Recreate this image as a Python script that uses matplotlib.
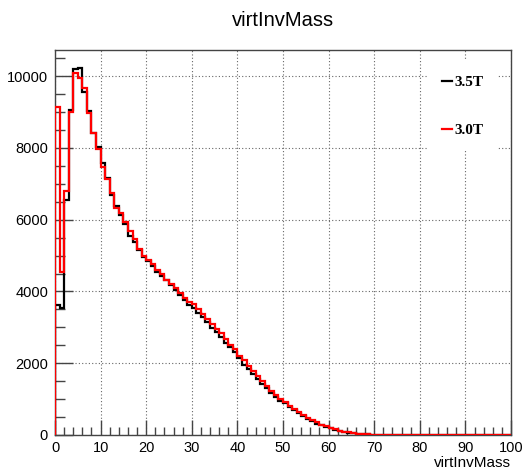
import numpy as np
import matplotlib
matplotlib.use("Agg")
import matplotlib.pyplot as plt
from matplotlib.lines import Line2D
from matplotlib.ticker import MultipleLocator

# virtual invariant mass, 100 bins of width 1 from 0 to 100
bin_edges = np.arange(0, 101, 1)

counts_35T = [
    3620, 3530, 6550, 9050, 10190, 10220, 9570, 9020, 8430, 8020,
    7570, 7150, 6700, 6380, 6130, 5880, 5560, 5390, 5160, 4950,
    4850, 4700, 4540, 4430, 4310, 4170, 4030, 3890, 3770, 3620,
    3550, 3400, 3300, 3140, 2990, 2870, 2730, 2570, 2440, 2310,
    2160, 1960, 1830, 1700, 1560, 1430, 1300, 1170, 1060, 950,
    880, 770, 690, 600, 520, 450, 380, 320, 270, 230,
    190, 150, 115, 90, 65, 50, 35, 25, 15, 10,
    6, 4, 2, 1,
] + [0] * 26

counts_30T = [
    9150, 4550, 6800, 9000, 10100, 9940, 9660, 8980, 8430, 7985,
    7480, 7130, 6750, 6320, 6180, 5940, 5680, 5450, 5180, 5000,
    4890, 4770, 4610, 4490, 4320, 4220, 4100, 3950, 3810, 3700,
    3640, 3510, 3380, 3240, 3100, 2950, 2830, 2670, 2520, 2400,
    2200, 2080, 1920, 1780, 1650, 1500, 1360, 1220, 1120, 1000,
    920, 820, 720, 640, 560, 480, 410, 350, 290, 240,
    200, 160, 125, 95, 70, 50, 38, 27, 18, 12,
    8, 5, 3, 2,
] + [0] * 26

labels = ["3.5T", "3.0T"]
colors = ["black", "#ff0000"]

FRAME = "#444444"

fig = plt.figure(figsize=(5.23, 4.71), dpi=100)
ax = fig.add_axes([55 / 523, 36 / 471, 456 / 523, 385 / 471])

for counts, col in zip([counts_35T, counts_30T], colors):
    ax.stairs(counts, bin_edges, baseline=0, color=col, lw=1.6, zorder=3)

ax.set_xlim(0, 100)
ax.set_ylim(0, 1.05 * max(counts_35T))

ax.xaxis.set_major_locator(MultipleLocator(10))
ax.xaxis.set_minor_locator(MultipleLocator(2))
ax.yaxis.set_major_locator(MultipleLocator(2000))
ax.yaxis.set_minor_locator(MultipleLocator(500))

ax.grid(which="major", color="#666666", lw=0.8, ls=(0, (1, 2)), zorder=1)

ax.tick_params(axis="x", which="major", direction="in", length=11, width=1,
               color=FRAME, labelsize=10.5, pad=4)
ax.tick_params(axis="x", which="minor", direction="in", length=5.5, width=1, color=FRAME)
ax.tick_params(axis="y", which="major", direction="in", length=13, width=1,
               color=FRAME, labelsize=10.5, pad=5)
ax.tick_params(axis="y", which="minor", direction="in", length=7, width=1, color=FRAME)
for lab in ax.get_xticklabels() + ax.get_yticklabels():
    lab.set_family("Liberation Sans")

for sp in ax.spines.values():
    sp.set_color(FRAME)
    sp.set_linewidth(1.0)

ax.set_title("virtInvMass", family="Liberation Sans", fontsize=14.5, pad=17)
ax.set_xlabel("virtInvMass", family="Liberation Sans", fontsize=11, labelpad=3)
ax.xaxis.set_label_coords(1.0, -0.055)
ax.xaxis.label.set_horizontalalignment("right")

handles = [Line2D([], [], color=c, lw=1.6) for c in colors]
leg = ax.legend(handles, labels, loc="upper right", bbox_to_anchor=(0.987, 0.99),
                prop={"family": "Liberation Serif", "weight": "bold", "size": 11},
                handlelength=0.7, handletextpad=0.15, labelspacing=2.25,
                borderpad=0.9, frameon=True, fancybox=False, framealpha=1,
                facecolor="white", edgecolor="none")
leg.set_zorder(5)

fig.savefig("out.png", dpi=100)
